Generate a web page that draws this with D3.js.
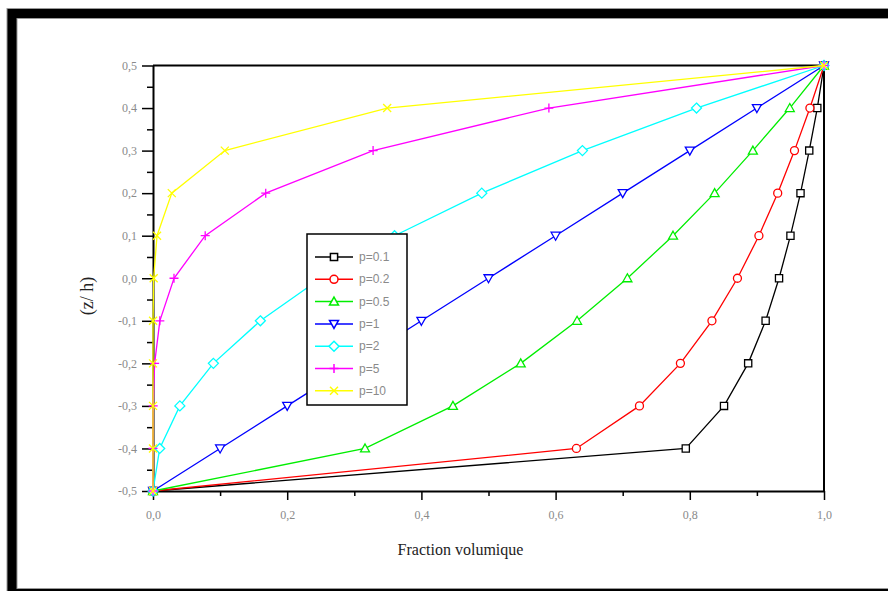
<!DOCTYPE html>
<html>
<head>
<meta charset="utf-8">
<script src="https://cdn.jsdelivr.net/npm/d3@7"></script>
<style>
  body { margin: 0; background: #fff; }
  svg { display: block; }
</style>
</head>
<body>
<div id="chart"></div>
<script>
// z/h positions of the points (same for every series)
var zh = [-0.5, -0.4, -0.3, -0.2, -0.1, 0.0, 0.1, 0.2, 0.3, 0.4, 0.5];

// volume fraction read for each p
var v01 = [0, 0.794, 0.851, 0.887, 0.913, 0.933, 0.950, 0.965, 0.978, 0.990, 1];
var v02 = [0, 0.631, 0.725, 0.786, 0.833, 0.871, 0.903, 0.931, 0.956, 0.979, 1];
var v05 = [0, 0.316, 0.447, 0.548, 0.632, 0.707, 0.775, 0.837, 0.894, 0.949, 1];
var v1  = [0, 0.1, 0.2, 0.3, 0.4, 0.5, 0.6, 0.7, 0.8, 0.9, 1];
var v2  = [0, 0.01, 0.04, 0.09, 0.16, 0.25, 0.36, 0.49, 0.64, 0.81, 1];
var v5  = [0, 0.00001, 0.0003, 0.0024, 0.0102, 0.0313, 0.0778, 0.168, 0.328, 0.590, 1];
var v10 = [0, 0, 0, 0.00001, 0.0001, 0.001, 0.006, 0.028, 0.107, 0.349, 1];

var seriesNames = ["p=0.1", "p=0.2", "p=0.5", "p=1", "p=2", "p=5", "p=10"];
var seriesValues = [v01, v02, v05, v1, v2, v5, v10];
var seriesColors = ["#000000", "#ff0000", "#00ee00", "#0000ff", "#00ffff", "#ff00ff", "#ffff00"];
var seriesMarkers = ["square", "circle", "triUp", "triDown", "diamond", "plus", "cross"];

var xTicks = [0, 0.2, 0.4, 0.6, 0.8, 1.0];
var yTicks = [-0.5, -0.4, -0.3, -0.2, -0.1, 0.0, 0.1, 0.2, 0.3, 0.4, 0.5];

var W = 888, H = 591;
var margin = {top: 65.5, right: 64, bottom: 100, left: 153};
var width = W - margin.left - margin.right,
    height = H - margin.top - margin.bottom;

var svg = d3.select("#chart").append("svg")
    .attr("width", W)
    .attr("height", H);

// outer frame
svg.append("rect")
    .attr("x", 12).attr("y", 13.5)
    .attr("width", 920).attr("height", 580)
    .attr("fill", "none")
    .attr("stroke", "#999")
    .attr("stroke-width", 11);
svg.append("rect")
    .attr("x", 12).attr("y", 13.5)
    .attr("width", 920).attr("height", 580)
    .attr("fill", "none")
    .attr("stroke", "#000")
    .attr("stroke-width", 9);

var g = svg.append("g")
    .attr("transform", "translate(" + margin.left + "," + margin.top + ")");

var x = d3.scaleLinear().domain([0, 1]).range([0, width]);
var y = d3.scaleLinear().domain([-0.5, 0.5]).range([height, 0]);

var fmt = function(d) { return d3.format(".1f")(d).replace(".", ",").replace("−", "-"); };

// minor ticks
g.append("g")
    .attr("transform", "translate(0," + height + ")")
    .call(d3.axisBottom(x).tickValues(d3.range(0.1, 1, 0.2)).tickSize(5).tickFormat(""))
    .call(function(a) { a.select(".domain").remove(); });
g.append("g")
    .call(d3.axisLeft(y).tickValues(d3.range(-0.45, 0.5, 0.1)).tickSize(6).tickFormat(""))
    .call(function(a) { a.select(".domain").remove(); });

var xAxis = g.append("g")
    .attr("transform", "translate(0," + height + ")")
    .call(d3.axisBottom(x).tickValues(xTicks).tickSize(9).tickSizeOuter(0).tickPadding(10).tickFormat(fmt));
var yAxis = g.append("g")
    .call(d3.axisLeft(y).tickValues(yTicks).tickSize(11).tickSizeOuter(0).tickPadding(5).tickFormat(fmt));

g.selectAll(".tick line").attr("stroke", "#000").attr("stroke-width", 1.5);
g.selectAll(".domain").attr("stroke", "#000").attr("stroke-width", 2);
g.selectAll(".tick text")
    .attr("fill", "#8a8a8a")
    .style("font-family", "'Liberation Serif', 'DejaVu Serif', serif")
    .style("font-size", "12px");

// top and right frame lines
g.append("line").attr("x1", 0).attr("x2", width).attr("y1", 0).attr("y2", 0)
    .attr("stroke", "#000").attr("stroke-width", 2);
g.append("line").attr("x1", width).attr("x2", width).attr("y1", 0).attr("y2", height)
    .attr("stroke", "#000").attr("stroke-width", 2);

// axis titles
svg.append("text")
    .attr("x", margin.left + width / 2 - 28)
    .attr("y", 555)
    .attr("text-anchor", "middle")
    .style("font-family", "'Liberation Serif', 'DejaVu Serif', serif")
    .style("font-size", "16px")
    .attr("fill", "#222")
    .text("Fraction volumique");

svg.append("text")
    .attr("transform", "translate(93,296) rotate(-90)")
    .attr("text-anchor", "middle")
    .style("font-family", "'Liberation Serif', 'DejaVu Serif', serif")
    .style("font-size", "18px")
    .attr("fill", "#222")
    .text("(z/ h)");

function markerPath(type) {
    var s = 3.6;
    switch (type) {
        case "square": return "M" + -s + "," + -s + "H" + s + "V" + s + "H" + -s + "Z";
        case "circle": return "M" + -4 + ",0A4,4 0 1,0 4,0A4,4 0 1,0 -4,0Z";
        case "triUp": return "M0,-4.5L4.5,3.5L-4.5,3.5Z";
        case "triDown": return "M0,4.5L4.5,-3.5L-4.5,-3.5Z";
        case "diamond": return "M0,-5L5,0L0,5L-5,0Z";
        case "plus": return "M-4.5,0H4.5M0,-4.5V4.5";
        case "cross": return "M-4,-4L4,4M-4,4L4,-4";
    }
}

var line = d3.line()
    .x(function(d) { return x(d[0]); })
    .y(function(d) { return y(d[1]); });

var plot = g.append("g");
seriesValues.forEach(function(vals, i) {
    var pts = vals.map(function(v, j) { return [v, zh[j]]; });
    var sg = plot.append("g");
    sg.append("path")
        .datum(pts)
        .attr("d", line)
        .attr("fill", "none")
        .attr("stroke", seriesColors[i])
        .attr("stroke-width", 1.3);
    var open = seriesMarkers[i] !== "plus" && seriesMarkers[i] !== "cross";
    sg.selectAll("path.m")
        .data(pts)
        .enter().append("path")
        .attr("class", "m")
        .attr("transform", function(d) { return "translate(" + x(d[0]) + "," + y(d[1]) + ")"; })
        .attr("d", markerPath(seriesMarkers[i]))
        .attr("fill", open ? "#fff" : "none")
        .attr("stroke", seriesColors[i])
        .attr("stroke-width", 1.3);
});

// legend
var lg = svg.append("g").attr("transform", "translate(307,234)");
lg.append("rect")
    .attr("width", 100).attr("height", 171)
    .attr("fill", "#fff")
    .attr("stroke", "#000")
    .attr("stroke-width", 1.5);
seriesNames.forEach(function(name, i) {
    var ly = 23 + i * 22.3;
    lg.append("line")
        .attr("x1", 8).attr("x2", 46).attr("y1", ly).attr("y2", ly)
        .attr("stroke", seriesColors[i]).attr("stroke-width", 1.5);
    var open = seriesMarkers[i] !== "plus" && seriesMarkers[i] !== "cross";
    lg.append("path")
        .attr("transform", "translate(27," + ly + ")")
        .attr("d", markerPath(seriesMarkers[i]))
        .attr("fill", open ? "#fff" : "none")
        .attr("stroke", seriesColors[i])
        .attr("stroke-width", 1.5);
    lg.append("text")
        .attr("x", 52).attr("y", ly + 4)
        .style("font-family", "'Liberation Sans', Arial, sans-serif")
        .style("font-size", "12px")
        .attr("fill", "#8a8a8a")
        .text(name);
});
</script>
</body>
</html>
